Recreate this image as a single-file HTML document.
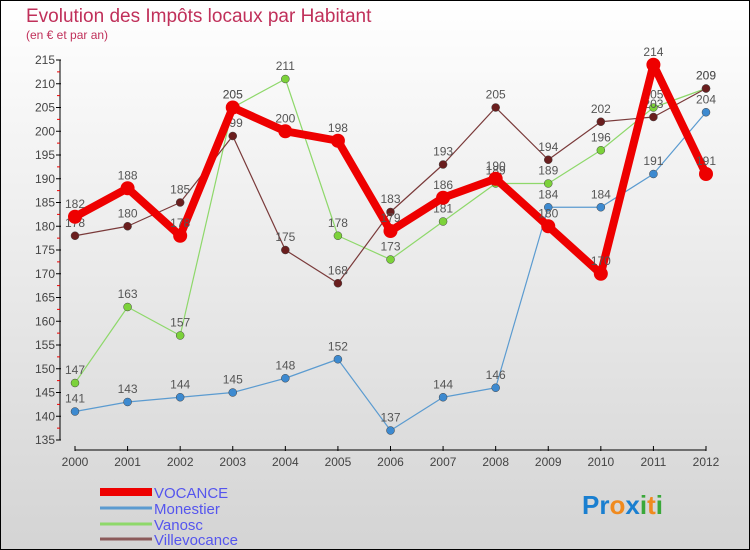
<!DOCTYPE html>
<html><head><meta charset="utf-8"><style>
html,body{margin:0;padding:0}
body{width:750px;height:550px;overflow:hidden;font-family:"Liberation Sans",sans-serif}
svg{display:block}
</style></head><body>
<svg id="c" width="750" height="550">
<defs><linearGradient id="bg" x1="0" y1="0" x2="0" y2="1"><stop offset="0" stop-color="#ffffff"/><stop offset="1" stop-color="#d4d4d4"/></linearGradient></defs>
<rect x="0.5" y="0.5" width="749" height="549" fill="url(#bg)" stroke="#000"/>
<text x="26" y="22" font-size="19" fill="#c0305a">Evolution des Impôts locaux par Habitant</text>
<text x="26" y="39" font-size="12" fill="#c0305a">(en € et par an)</text>
<g id="axes"></g><g id="series"></g>
<g>
<rect x="100" y="488" width="52" height="8" fill="#e00"/>
<text x="154" y="498" font-size="15" fill="#5555ee">VOCANCE</text>
<line x1="100" y1="508" x2="152" y2="508" stroke="#5b9bd0" stroke-width="3"/>
<text x="154" y="514" font-size="15" fill="#5555ee">Monestier</text>
<line x1="100" y1="524" x2="152" y2="524" stroke="#8ed86a" stroke-width="3"/>
<text x="154" y="530" font-size="15" fill="#5555ee">Vanosc</text>
<line x1="100" y1="539" x2="152" y2="539" stroke="#8b5a5a" stroke-width="3"/>
<text x="154" y="545" font-size="15" fill="#5555ee">Villevocance</text>
</g>
<text x="582" y="514" font-size="26" font-weight="bold"><tspan fill="#1a7fd0">Pr</tspan><tspan fill="#f08a1e">o</tspan><tspan fill="#1a7fd0">x</tspan><tspan fill="#3aa83a">i</tspan><tspan fill="#f08a1e">t</tspan><tspan fill="#3aa83a">i</tspan></text>
</svg>
<script>
const years=[2000,2001,2002,2003,2004,2005,2006,2007,2008,2009,2010,2011,2012];
const vocance=[182,188,178,205,200,198,179,186,190,180,170,214,191];
const monestier=[141,143,144,145,148,152,137,144,146,184,184,191,204];
const vanosc=[147,163,157,205,211,178,173,181,189,189,196,205,209];
const villevocance=[178,180,185,199,175,168,183,193,205,194,202,203,209];
const yTicks=[135,140,145,150,155,160,165,170,175,180,185,190,195,200,205,210,215];
const NS="http://www.w3.org/2000/svg";
const X=i=>75+i*(706-75)/(years.length-1);
const Y=v=>440-(v-135)*(380/80);
function mk(tag,attrs,parent){const e=document.createElementNS(NS,tag);for(const k in attrs)e.setAttribute(k,attrs[k]);parent.appendChild(e);return e;}
const ax=document.getElementById('axes');
let yl=mk('line',{x1:60,y1:Y(215),x2:60,y2:Y(135),stroke:'#000'},ax);


yTicks.forEach(t=>{
  mk('line',{x1:56,y1:Y(t),x2:61,y2:Y(t),stroke:'#000'},ax);
  if(t<215) mk('line',{x1:57,y1:Y(t+2.5),x2:60,y2:Y(t+2.5),stroke:'#e00'},ax);
  const tx=mk('text',{x:55,y:Y(t)+4,'font-size':12,'text-anchor':'end',fill:'#444'},ax);
  tx.textContent=t;
  
  
});
let xl=mk('line',{x1:X(0),y1:450,x2:X(12),y2:450,stroke:'#000'},ax);


years.forEach((y,i)=>{
  mk('line',{x1:X(i),y1:446,x2:X(i),y2:451,stroke:'#000'},ax);
  const tx=mk('text',{x:X(i),y:466,'font-size':12,'text-anchor':'middle',fill:'#444'},ax);
  tx.textContent=y;
  
  
});
const sg=document.getElementById('series');
function draw(name,vals,color,w,r,dot){
  const g=mk('g',{},sg);
  
  
  const p=mk('polyline',{points:vals.map((v,i)=>X(i)+','+Y(v)).join(' '),fill:'none',stroke:color,'stroke-width':w,'stroke-linejoin':'round'},g);
  
  
  vals.forEach((v,i)=>{
    const c=mk('circle',{cx:X(i),cy:Y(v),r:r,fill:dot,stroke:color==='#e00'?'#e00':'#444','stroke-width':color==='#e00'?0:0.5},g);
    
    
    const t=mk('text',{x:X(i),y:Y(v)-9,'font-size':12,'text-anchor':'middle',fill:'#555'},g);
    t.textContent=v;
    
    
  });
}
draw('monestier',monestier,'#5b9bd0',1.2,4,'#3d8ad0');
draw('vanosc',vanosc,'#8ed86a',1.2,4,'#7cd23a');
draw('villevocance',villevocance,'#7a3a3a',1.2,4,'#6a1e1e');
draw('vocance',vocance,'#e00',8,7,'#e00');
</script>
</body></html>
